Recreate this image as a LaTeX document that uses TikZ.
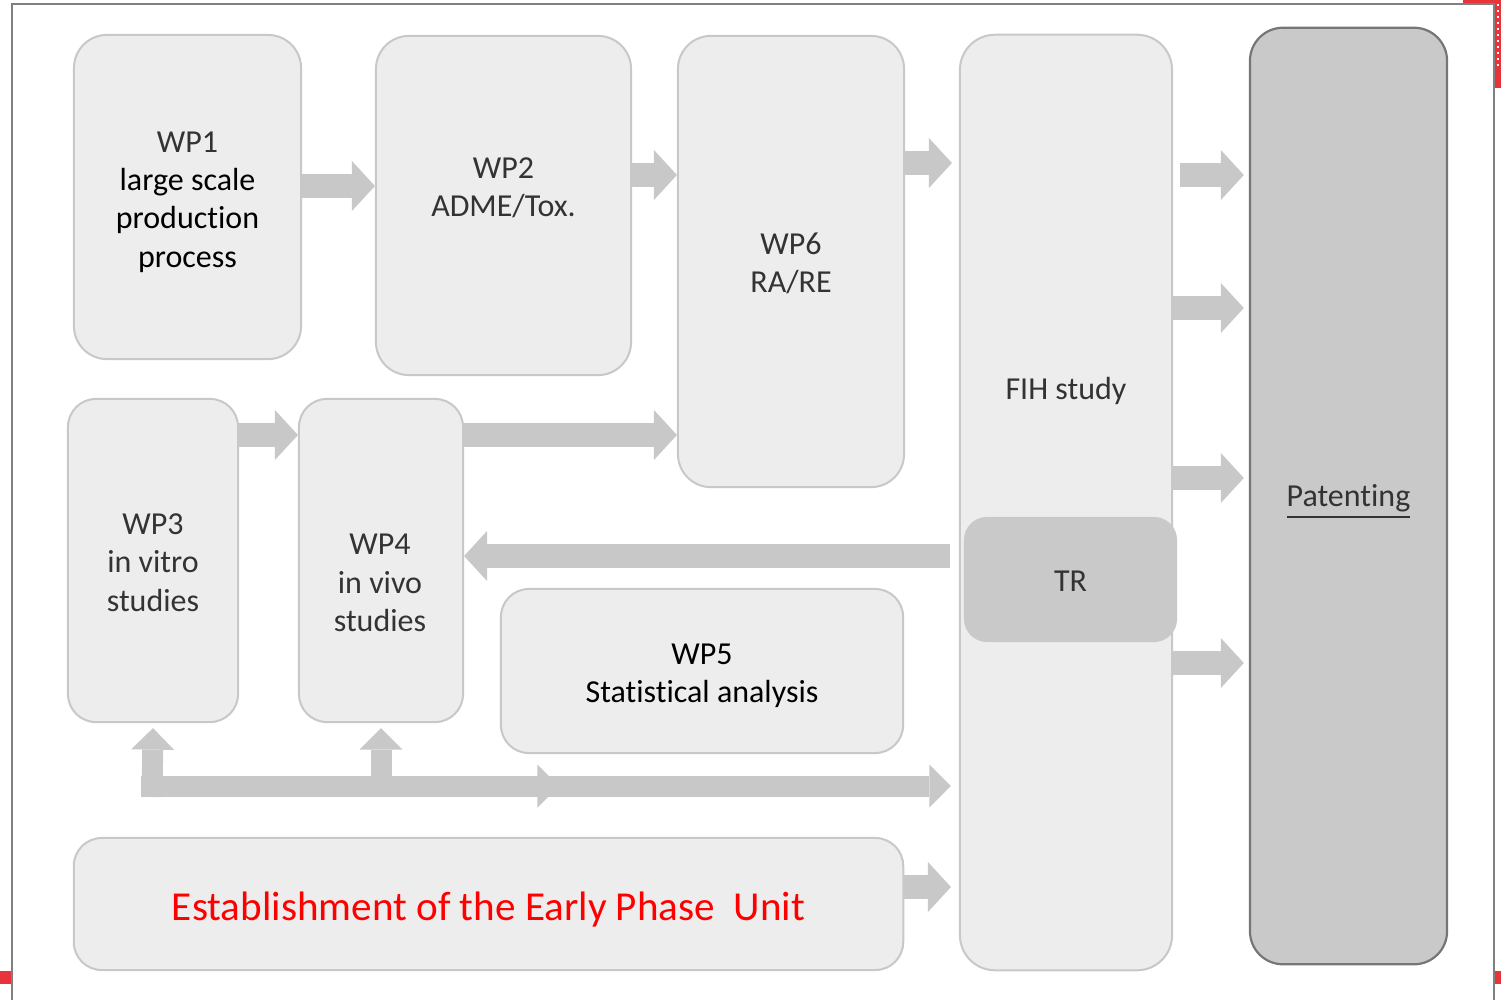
\documentclass[tikz,border=0pt]{standalone}
\usepackage{fontspec}
\setmainfont{Carlito}[Ligatures=NoCommon]
\usepackage{xcolor}
\usepackage{tikz}
\usetikzlibrary{arrows.meta}
\usetikzlibrary{positioning}

\definecolor{boxfill}{HTML}{EDEDED}
\definecolor{boxline}{HTML}{C8C8C8}
\definecolor{arrowgray}{HTML}{C8C8C8}
\definecolor{darkfill}{HTML}{C9C9C9}
\definecolor{darkline}{HTML}{767676}
\definecolor{framegray}{HTML}{808080}
\definecolor{markred}{HTML}{E8333A}

\begin{document}
\begin{tikzpicture}[
    x=0.01cm, y=-0.01cm,
    lbl/.style={align=center, font=\fontsize{9.1}{10.9}\selectfont, text=black!80},
    box_style/.style={draw=boxline, fill=boxfill, line width=0.02cm, rounded corners=0.33cm, inner sep=0pt},
    dark_style/.style={draw=darkline, fill=darkfill, line width=0.022cm, rounded corners=0.33cm, inner sep=0pt},
    blk_arrow/.style={draw=arrowgray, line width=0.245cm, -{Triangle[length=0.23cm, width=0.5cm, line width=0pt]}},
    thin_arrow/.style={draw=arrowgray, line width=0.21cm, -{Triangle[length=0.215cm, width=0.43cm, line width=0pt]}}
  ]
  \useasboundingbox (0,0) rectangle (1501,1000);

  % 1. Ram och roda markeringar i kanten
  \draw[framegray, line width=0.025cm] (12,1000) -- (12,4) -- (1494,4) -- (1494,1000);
  \fill[markred] (0,971) rectangle (11,984);
  \fill[markred] (1495,971) rectangle (1501,984);
  \fill[markred] (1463,0) rectangle (1501,3);
  \fill[markred] (1495,0) rectangle (1501,88);
  \draw[white, line width=0.012cm, dash pattern=on 0.02cm off 0.04cm] (1498,4) -- (1498,70);

  % 2. Arbetspaketen
  \node[box_style, minimum width=2.27cm, minimum height=3.24cm] (wp1) at (187.5,197) {};
  \node[box_style, minimum width=2.55cm, minimum height=3.39cm] (wp2) at (503.5,205.5) {};
  \node[box_style, minimum width=2.26cm, minimum height=4.51cm] (wp6) at (791,261.5) {};
  \node[box_style, minimum width=2.12cm, minimum height=9.35cm, rounded corners=0.35cm] (fih) at (1066,502.5) {};
  \node[dark_style, minimum width=1.97cm, minimum height=9.36cm] (pat) at (1348.5,496) {};
  \node[box_style, minimum width=1.70cm, minimum height=3.23cm, rounded corners=0.28cm] (wp3) at (153,560.5) {};
  \node[box_style, minimum width=1.64cm, minimum height=3.23cm, rounded corners=0.28cm] (wp4) at (381,560.5) {};
  \node[box_style, minimum width=4.02cm, minimum height=1.64cm, rounded corners=0.28cm] (wp5) at (702,671) {};
  \node[box_style, minimum width=8.29cm, minimum height=1.32cm, rounded corners=0.28cm] (epu) at (488.5,904) {};
  \node[fill=darkfill, draw=darkfill, line width=0.02cm, rounded corners=0.22cm,
        minimum width=2.11cm, minimum height=1.23cm] (tr) at (1070.5,579.5) {};

  % texterna
  \node[lbl] (wp1_txt) at ([yshift=-0.05cm]wp1.center)
    {WP1\\\textcolor{black}{large scale}\\\textcolor{black}{production}\\\textcolor{black}{process}};
  \node[lbl] (wp2_txt) at (503.5,188) {WP2\\ADME/Tox.};
  \node[lbl] (wp6_txt) at ([yshift=-0.02cm]wp6.center) {WP6\\RA/RE};
  \node[lbl] (fih_txt) at (1066,391) {FIH study};
  \node[lbl] (wp3_txt) at ([yshift=-0.02cm]wp3.center) {WP3\\in vitro\\studies};
  \node[lbl] (wp4_txt) at (380,583) {WP4\\in vivo\\studies};
  \node[lbl, text=black] (wp5_txt) at ([yshift=-0.05cm]wp5.center) {WP5\\Statistical analysis};
  \node[lbl] (tr_txt) at ([yshift=-0.02cm]tr.center) {TR};
  \node[lbl] (pat_txt) at ([yshift=-0.06cm]pat.center) {\underline{Patenting}};
  \node[lbl, text=red, font=\fontsize{11.7}{14}\selectfont] (epu_txt) at ([yshift=-0.06cm]epu.center)
    {Establishment of the Early Phase\ \ Unit};

  % 3. Blockpilar mellan rutorna
  \draw[blk_arrow] (wp1.east |- 0,186) -- (wp2.west |- 0,186);
  \draw[blk_arrow] (wp2.east |- 0,175) -- (wp6.west |- 0,175);
  \draw[blk_arrow, shorten >=0.07cm] (wp6.east |- 0,163) -- (fih.west |- 0,163);
  \draw[blk_arrow] (wp3.east |- 0,435) -- (wp4.west |- 0,435);
  \draw[blk_arrow] (wp4.east |- 0,435) -- (wp6.west |- 0,435);
  \draw[blk_arrow, shorten <=0.09cm] (fih.west |- 0,556) -- (wp4.east |- 0,556);
  \draw[blk_arrow, shorten >=0.08cm] (epu.east |- 0,887) -- (fih.west |- 0,887);

  % 4. Pilar till patentering
  \draw[blk_arrow, shorten <=0.07cm, shorten >=0.05cm] (fih.east |- 0,175) -- (pat.west |- 0,175);
  \foreach \y in {308, 478, 663} {
    \draw[blk_arrow, shorten >=0.05cm] (fih.east |- 0,\y) -- (pat.west |- 0,\y);
  }

  % 5. Samlingsskena under WP3 och WP4
  \coordinate (bus_start) at (141,786);
  \coordinate (bus_mid) at (559,786);
  \draw[thin_arrow, shorten >=0.08cm] (bus_start) -- (fih.west |- bus_start);
  \draw[thin_arrow] (wp4.south |- bus_start) -- (bus_mid);
  \draw[thin_arrow] (152,797) -- ([yshift=-0.05cm]wp3.south);
  \draw[thin_arrow] (wp4.south |- 0,797) -- ([yshift=-0.05cm]wp4.south);

\end{tikzpicture}
\end{document}
